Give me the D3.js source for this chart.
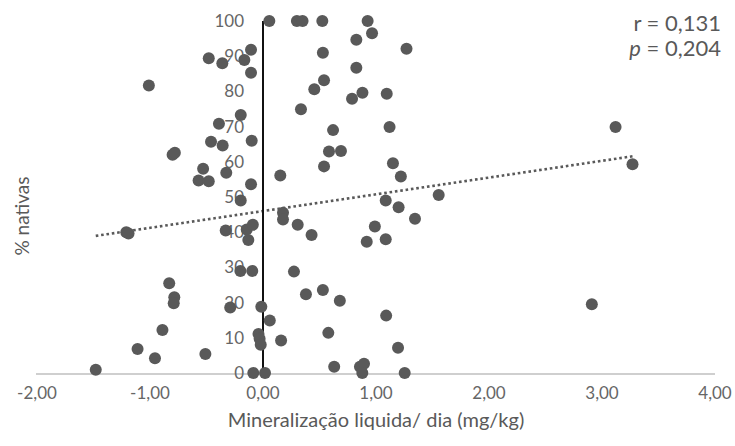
<!DOCTYPE html>
<html>
<head>
<meta charset="utf-8">
<script src="https://cdn.jsdelivr.net/npm/d3@7"></script>
<style>
  html, body { margin: 0; padding: 0; background: #fff; }
  svg { display: block; font-family: Lato, "Open Sans", sans-serif; }
</style>
</head>
<body>
<svg id="chart" width="735" height="446"></svg>
<script>
// Net mineralisation per day (x) against share of native species (y)
const mineralizacao = [
  0.056, 0.30, 0.35, 0.525, 0.926, 0.965, 0.826, 0.53, 1.27, 0.826,
  0.54, 0.454, 0.88, 0.788, 1.095, 0.336, 0.62, 1.12, 0.584, 0.69,
  0.54, 1.15, 1.22, 0.153, 1.555, 1.086, 3.12, 3.27,
  -0.48, -0.36, -0.165, -0.106, -0.106, -1.01, -0.197, -0.39, -0.46, -0.357,
  -0.10, -0.80, -0.78, -0.53, -0.57, -0.48, -0.325, -0.106, -0.197,
  0.177, 0.177, 0.307, 0.43, -0.33, -0.144, -0.09, -0.13, 0.99,
  0.918, 1.086, 1.2, 1.345, -1.21, -1.19,
  -0.2, -0.095, 0.274, 0.38, 0.53, 0.68, -0.015, -0.29, 0.06, 1.09,
  0.578, 0.16, -0.04, -0.03, -0.02, 1.195, 0.63, 0.858, 0.894, 0.879,
  1.254, -0.086, 0.018, -0.51, -0.83, -0.785, -0.79, -0.89, -1.11, -0.956,
  -1.48, 2.91
];
const nativas = [
  100, 100, 100, 100, 100, 96.5, 94.7, 91, 92.1, 86.7,
  83.2, 80.6, 79.6, 77.9, 79.3, 74.9, 69, 69.9, 62.9, 63.1,
  58.7, 59.6, 55.8, 56.1, 50.6, 49, 69.9, 59.3,
  89.4, 88, 88.9, 91.8, 85.3, 81.7, 73.3, 70.8, 65.7, 64.6,
  66, 62, 62.6, 58, 54.7, 54.5, 56.9, 53.6, 49,
  45.5, 43.6, 42.1, 39.2, 40.5, 40.8, 42.1, 37.8, 41.6,
  37.3, 38, 47.1, 43.8, 40, 39.6,
  29, 29, 28.8, 22.4, 23.6, 20.5, 18.8, 18.6, 14.9, 16.3,
  11.4, 9.2, 11.1, 9.7, 8.0, 7.2, 1.8, 1.8, 2.6, 0,
  0, 0, 0, 5.4, 25.5, 21.5, 19.8, 12.2, 6.8, 4.2,
  0.9, 19.5
];

// Linear trend line coefficients and statistics
const trendSlope = 4.76;
const trendIntercept = 46.0;
const statsLines = [
  { label: "r", value: "0,131", italic: false },
  { label: "p", value: "0,204", italic: true }
];

const xTicks = [-2, -1, 0, 1, 2, 3, 4];
const yTicks = [0, 10, 20, 30, 40, 50, 60, 70, 80, 90, 100];
const xTitle = "Mineralização liquida/ dia (mg/kg)";
const yTitle = "% nativas";

const svg = d3.select("#chart");
const x = d3.scaleLinear().domain([-2, 4]).range([37, 715]);
const y = d3.scaleLinear().domain([0, 100]).range([373, 21]);
const fmt = v => d3.format(".2f")(v).replace(".", ",").replace("−", "-");

const dotColor = "#595959";
const textColor = "#595959";

// Horizontal axis line and tick labels
svg.append("line")
  .attr("x1", x(-2) - 1).attr("x2", x(4))
  .attr("y1", y(0) + 1).attr("y2", y(0) + 1)
  .attr("stroke", "#bfbfbf").attr("stroke-width", 1.5);

svg.append("g").selectAll("text").data(xTicks).join("text")
  .attr("x", d => x(d)).attr("y", 399)
  .attr("text-anchor", "middle")
  .attr("font-size", 17).attr("fill", "#666")
  .text(fmt);

// Vertical axis tick labels (drawn beneath the points)
svg.append("g").selectAll("text").data(yTicks).join("text")
  .attr("x", x(0) - 19).attr("y", d => y(d) + 6)
  .attr("text-anchor", "end")
  .attr("font-size", 17).attr("fill", "#666")
  .text(d => d);

// Trend line across the range of the data
const xExt = d3.extent(mineralizacao);
svg.append("line")
  .attr("x1", x(xExt[0])).attr("y1", y(trendIntercept + trendSlope * xExt[0]))
  .attr("x2", x(xExt[1])).attr("y2", y(trendIntercept + trendSlope * xExt[1]))
  .attr("stroke", dotColor).attr("stroke-width", 2.6)
  .attr("stroke-dasharray", "2.6 2.8");

// Vertical axis line at x = 0
svg.append("line")
  .attr("x1", x(0)).attr("x2", x(0))
  .attr("y1", y(0)).attr("y2", y(100))
  .attr("stroke", "#111").attr("stroke-width", 2);

// Points
svg.append("g").selectAll("circle").data(d3.range(mineralizacao.length)).join("circle")
  .attr("cx", i => x(mineralizacao[i]))
  .attr("cy", i => y(nativas[i]))
  .attr("r", 6)
  .attr("fill", dotColor);

// Axis titles
svg.append("text")
  .attr("x", (x(-2) + x(4)) / 2).attr("y", 427)
  .attr("text-anchor", "middle")
  .attr("font-size", 20).attr("fill", textColor)
  .text(xTitle);

svg.append("text")
  .attr("transform", "translate(29,216) rotate(-90)")
  .attr("text-anchor", "middle")
  .attr("font-size", 19).attr("fill", textColor)
  .text(yTitle);

// Correlation statistics
const stats = svg.append("g").selectAll("text").data(statsLines).join("text")
  .attr("x", 721).attr("y", (d, i) => 31 + i * 25)
  .attr("text-anchor", "end")
  .attr("font-size", 22).attr("fill", textColor);
stats.append("tspan")
  .attr("font-style", d => d.italic ? "italic" : "normal")
  .text(d => d.label);
stats.append("tspan").text(d => " = " + d.value);
</script>
</body>
</html>
